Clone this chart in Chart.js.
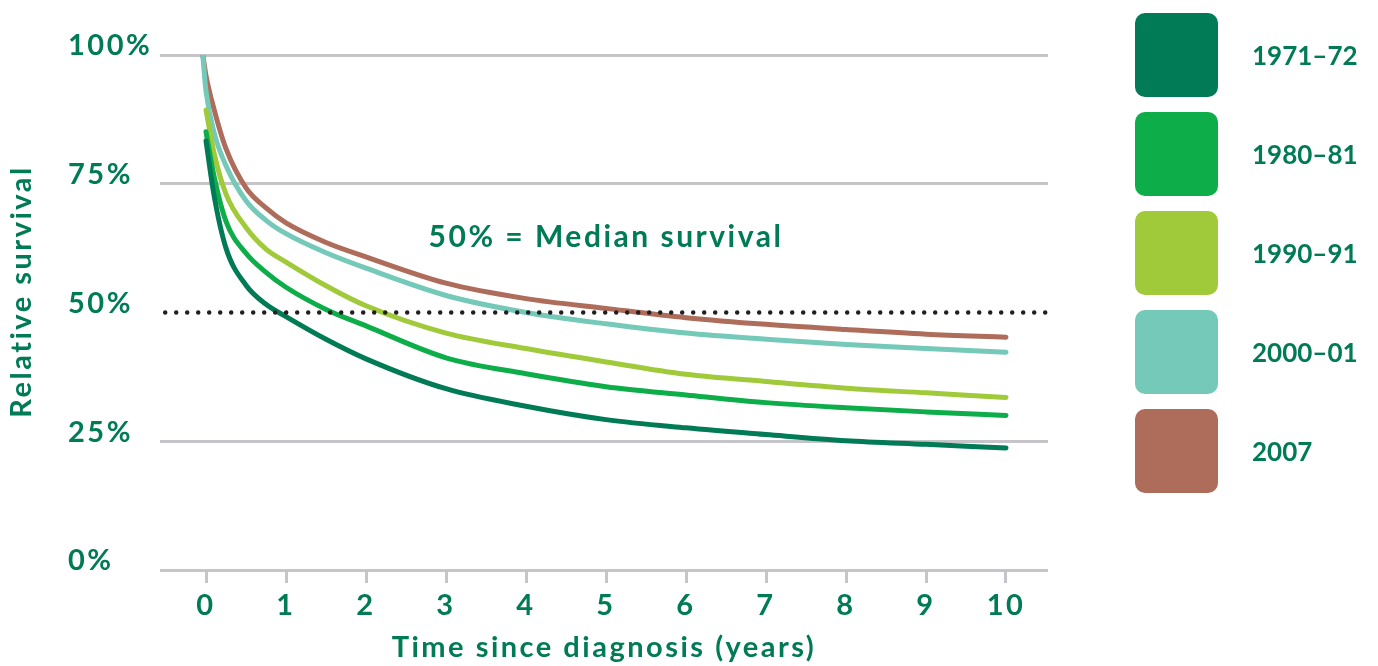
<!DOCTYPE html>
<html>
<head>
<meta charset="utf-8">
<script src="https://cdn.jsdelivr.net/npm/chart.js@4.4.1/dist/chart.umd.min.js"></script>
<style>
  html, body { margin: 0; padding: 0; background: #fff; }
  #wrap { position: relative; width: 1378px; height: 666px; overflow: hidden; }
  #survivalChart { position: absolute; left: 0; top: 0; }
  #legend { position: absolute; left: 1135px; top: 13px; }
  .item { display: flex; align-items: center; height: 84px; margin-bottom: 15px; }
  .swatch { width: 83px; height: 84px; border-radius: 10px; }
  .label { margin-left: 34px; font: 700 26px Lato, sans-serif; color: #007b56; }
</style>
</head>
<body>
<div id="wrap">
  <canvas id="survivalChart" width="1378" height="666"></canvas>
  <div id="legend"></div>
</div>
<script>
// time since diagnosis (years) for each reading
const years = [-0.04, 0, 0.1, 0.25, 0.5, 0.75, 1, 1.5, 2, 3, 4, 5, 6, 7, 8, 9, 10];

const cohorts = ['1971–72', '1980–81', '1990–91', '2000–01', '2007'];

// relative survival (%)
const s1971 = [null, 83.3, 72.8, 62.5, 55.3, 51.6, 49.2, 44.8, 41.0, 35.2, 31.8, 29.2, 27.6, 26.3, 25.1, 24.4, 23.7];
const s1980 = [null, 85.1, 76.5, 67.7, 61.5, 57.8, 54.9, 50.6, 47.4, 41.2, 38.1, 35.6, 34.0, 32.5, 31.5, 30.7, 30.0];
const s1990 = [null, 89.3, 81.0, 73.0, 66.5, 62.3, 59.8, 55.2, 51.3, 46.0, 43.0, 40.4, 38.0, 36.6, 35.3, 34.4, 33.5];
const s2000 = [100, 93.0, 85.0, 78.5, 71.7, 67.9, 65.3, 61.6, 58.6, 53.3, 50.0, 47.8, 46.0, 44.8, 43.8, 43.0, 42.3];
const s2007 = [100, 96.0, 89.5, 81.8, 74.2, 70.3, 67.4, 63.6, 60.8, 55.7, 52.7, 50.8, 49.0, 47.7, 46.7, 45.8, 45.2];

const xTicks = [0, 1, 2, 3, 4, 5, 6, 7, 8, 9, 10];
const yTicks = [0, 25, 50, 75, 100];
const medianLine = [[-0.51, 50], [10.6, 50]];

const colors = ['#007b55', '#0dad4a', '#a1ca3b', '#74c9b9', '#ae6c5a'];
const textColor = '#007b56';
const gridColor = '#c4c4c9';
const font = 'Lato, sans-serif';

function toPoints(values) {
    return years.map((x, i) => ({ x: x, y: values[i] }));
}

const series = [s1971, s1980, s1990, s2000, s2007];

const datasets = series.map((values, i) => ({
    label: cohorts[i],
    data: toPoints(values),
    borderColor: colors[i],
    borderWidth: 5,
    borderCapStyle: 'round',
    pointRadius: 0,
    cubicInterpolationMode: 'monotone',
    order: i + 1
}));

datasets.push({
    label: 'median',
    data: medianLine.map(p => ({ x: p[0], y: p[1] })),
    borderColor: '#231f20',
    borderWidth: 4.5,
    borderDash: [0, 11],
    borderCapStyle: 'round',
    pointRadius: 0,
    order: 0
});

// wider lettering, closer to the original typeface
const spacing = {
    id: 'spacing',
    beforeDraw(chart) { chart.ctx.letterSpacing = '2.5px'; }
};

// y-axis title and the median note
const extraText = {
    id: 'extraText',
    afterDraw(chart) {
        const c = chart.ctx;
        const area = chart.chartArea;
        const xs = chart.scales.x, ys = chart.scales.y;
        c.save();
        c.fillStyle = textColor;
        c.textAlign = 'center';
        c.textBaseline = 'middle';
        c.font = '700 30px ' + font;
        c.fillText('50% = Median survival', xs.getPixelForValue(5), ys.getPixelForValue(64.5));
        c.font = '700 29px ' + font;
        c.translate(22, (area.top + area.bottom) / 2 - 21);
        c.rotate(-Math.PI / 2);
        c.fillText('Relative survival', 0, 0);
        c.restore();
    }
};

const chart = new Chart(document.getElementById('survivalChart'), {
    type: 'line',
    data: { datasets: datasets },
    options: {
        responsive: false,
        animation: false,
        layout: { padding: { left: 68, right: 330, top: 55, bottom: 0 } },
        scales: {
            x: {
                type: 'linear',
                min: -0.575,
                max: 10.525,
                afterBuildTicks: scale => { scale.ticks = xTicks.map(v => ({ value: v })); },
                afterFit: scale => { scale.height = 96; },
                border: { display: false },
                grid: { drawOnChartArea: false, drawTicks: true, tickLength: 13, color: gridColor, lineWidth: 3 },
                ticks: { color: textColor, font: { family: font, size: 29, weight: '700' }, padding: 5 },
                title: {
                    display: true,
                    text: 'Time since diagnosis (years)',
                    color: textColor,
                    font: { family: font, size: 29, weight: '700' },
                    padding: { top: 0, bottom: 1 }
                }
            },
            y: {
                min: 0,
                max: 100,
                afterBuildTicks: scale => { scale.ticks = yTicks.map(v => ({ value: v })); },
                afterFit: scale => { scale.width = 92; },
                border: { display: false },
                grid: {
                    drawTicks: false,
                    lineWidth: 3,
                    color: ctx => ctx.tick && ctx.tick.value === 50 ? 'rgba(0,0,0,0)' : gridColor
                },
                ticks: {
                    color: textColor,
                    font: { family: font, size: 29, weight: '700' },
                    crossAlign: 'far',
                    labelOffset: -9,
                    callback: v => v + '%'
                }
            }
        },
        plugins: {
            legend: { display: false },
            tooltip: { enabled: false }
        }
    },
    plugins: [spacing, extraText]
});

const legend = document.getElementById('legend');
cohorts.forEach((name, i) => {
    const item = document.createElement('div');
    item.className = 'item';
    item.innerHTML = '<div class="swatch" style="background:' + colors[i] + '"></div><div class="label">' + name + '</div>';
    legend.appendChild(item);
});
</script>
</body>
</html>
